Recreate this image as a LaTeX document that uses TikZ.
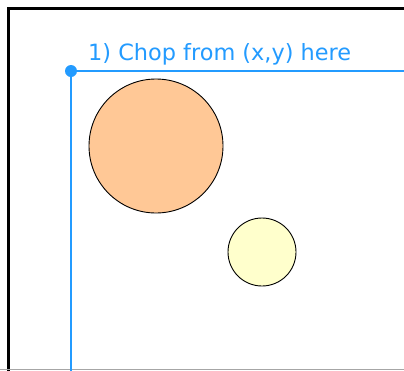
\documentclass[tikz,border=0pt]{standalone}
\usepackage{fontspec}
\newfontfamily\labelfont{DejaVu Sans}
\definecolor{chopblue}{RGB}{35,155,255}
\definecolor{peach}{RGB}{255,200,150}
\definecolor{paleyellow}{RGB}{255,255,204}
\begin{document}
\begin{tikzpicture}[x=1pt,y=-1pt,
  circ/.style={circle,draw=black,line width=0.9pt,inner sep=0pt},
  chopline/.style={draw=chopblue,line width=1.8pt}]
\useasboundingbox (0,0) rectangle (404,370);
\fill[white] (0,0) rectangle (404,370);
% frame
\draw[line width=3pt,black] (8,375) -- (8,8) -- (410,8);
\draw[line width=1pt,gray!70] (0,369.5) -- (404,369.5);
% circles
\node[circ,fill=peach,minimum size=134pt] (big) at (156,146) {};
\node[circ,fill=paleyellow,minimum size=68pt] (small) at (262,252) {};
% chop lines
\coordinate (corner) at (71,71);
\coordinate (right) at (410,71);
\coordinate (down) at (71,375);
\draw[chopline] (corner) -- (right);
\draw[chopline] (corner) -- (down);
\fill[chopblue] (corner) circle (6pt);
\node[anchor=base west,inner sep=0pt,text=chopblue,font=\labelfont\fontsize{22.4}{26}\selectfont] (lbl) at (88,60) {1) Chop from (x,y) here};
\end{tikzpicture}
\end{document}
